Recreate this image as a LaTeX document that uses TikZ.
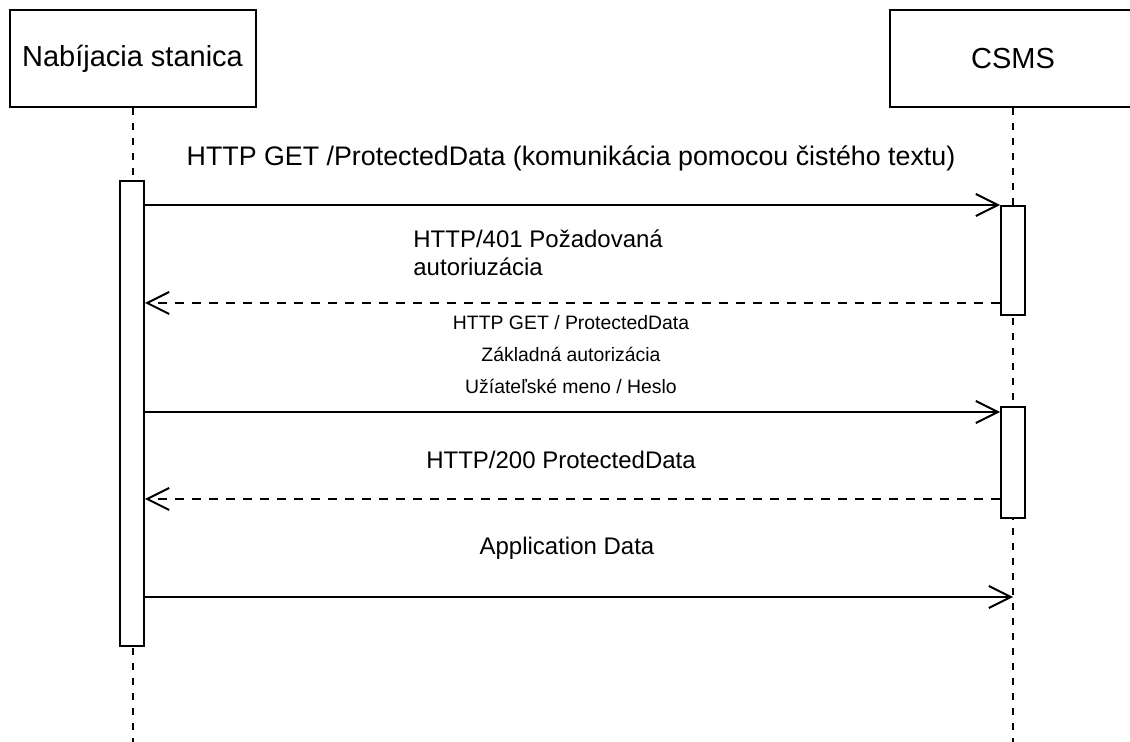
\documentclass[tikz,border=0pt]{standalone}
\usepackage{fontspec}
\setmainfont{Liberation Sans}
\usetikzlibrary{arrows.meta}

\tikzset{
  actor/.style={draw, line width=1pt, minimum width=123pt, minimum height=48.5pt, inner sep=0pt, font=\fontsize{14.5}{17}\selectfont},
  actbar/.style={draw, fill=white, line width=1pt, minimum width=12pt, inner sep=0pt},
  life/.style={line width=1pt, dash pattern=on 3.5pt off 4pt},
  msg/.style={line width=1pt, -{Straight Barb[length=11pt,width=11pt,line width=1pt]}},
  reply/.style={msg, dash pattern=on 4.5pt off 4pt},
  lbl/.style={inner sep=0pt, font=\fontsize{12}{14}\selectfont},
}

\begin{document}
\begin{tikzpicture}[x=0.5pt, y=-0.5pt]
  \useasboundingbox (0,0) rectangle (1130,742);
  \clip (0,0) rectangle (1130,742);
  \node [actor] (nst) at (132.5,58.5) {Nabíjacia stanica};
  \node [actor] (csms) at (1013,58.5) {CSMS};
  \draw [life] (nst.south) -- (nst.south |- 0,742);
  \draw [life] (csms.south) -- (csms.south |- 0,742);
  \node [actbar, minimum height=232.5pt] (lbar) at (132,413.5) {};
  \node [actbar, minimum height=54.5pt] (r1) at (1013,260.5) {};
  \node [actbar, minimum height=55.5pt] (r2) at (1013,462.5) {};
  \node [lbl, font=\fontsize{13.4}{16}\selectfont] (t1) at (571,158) {HTTP GET /ProtectedData (komunikácia pomocou čistého textu)};
  \draw [msg] (lbar.east |- r1.north) -- (r1.north west);
  \node [lbl, align=left, anchor=west] (t2) at (413,252.5) {HTTP/401 Požadovaná\\autoriuzácia};
  \draw [reply] (r1.west |- 0,303) -- (lbar.east |- 0,303);
  \node [lbl, align=center, font=\fontsize{9.7}{16}\selectfont] (t3) at (571,355) {HTTP GET / ProtectedData\\Základná autorizácia\\Užíateľské meno / Heslo};
  \draw [msg] (lbar.east |- 0,412) -- (r2.west |- 0,412);
  \node [lbl] (t4) at (561,460) {HTTP/200 ProtectedData};
  \draw [reply] (r2.west |- 0,499) -- (lbar.east |- 0,499);
  \node [lbl] (t5) at (567,548) {Application Data};
  \draw [msg] (lbar.east |- 0,597) -- (csms.south |- 0,597);
\end{tikzpicture}
\end{document}
